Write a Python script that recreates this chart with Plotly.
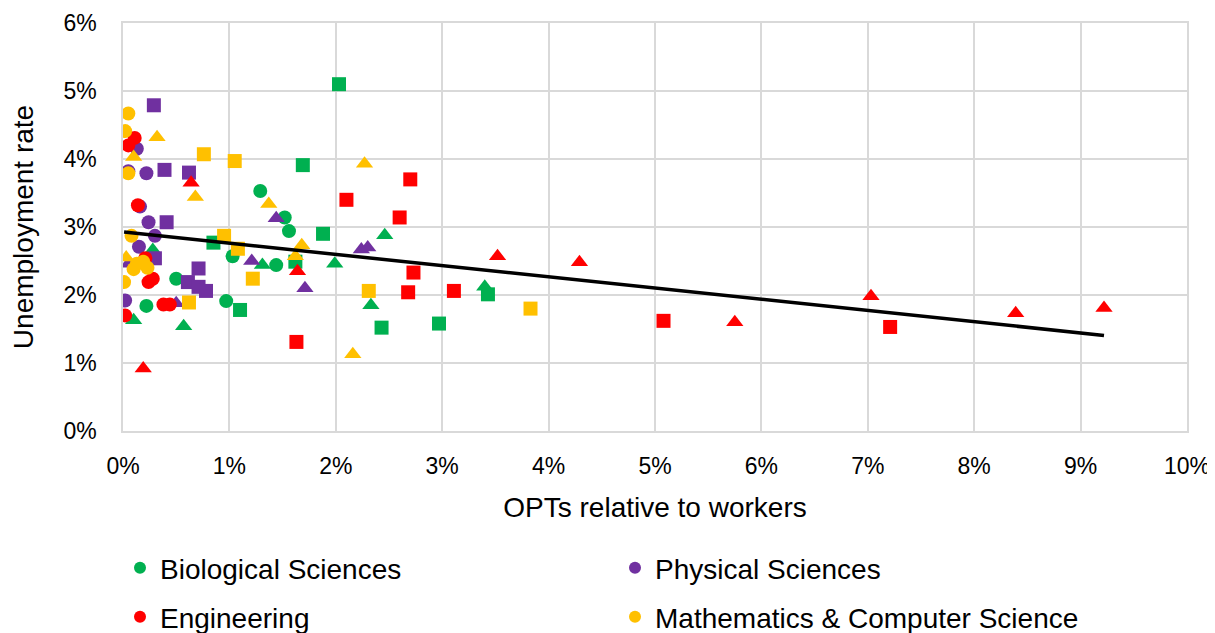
import numpy as np
import plotly.graph_objects as go

# Values in percent: (OPTs relative to workers, unemployment rate)
categories = ["Biological Sciences", "Physical Sciences", "Engineering",
              "Mathematics & Computer Science"]
colors = ["#00B050", "#7030A0", "#FF0000", "#FFC000"]

bio_circle_x = [1.29, 1.52, 1.56, 1.44, 1.03, 0.97, 0.50, 0.22]
bio_circle_y = [3.53, 3.14, 2.94, 2.44, 2.57, 1.91, 2.24, 1.84]
bio_square_x = [2.03, 1.69, 1.88, 1.62, 2.43, 2.97, 3.43, 0.85, 1.10]
bio_square_y = [5.10, 3.91, 2.90, 2.49, 1.52, 1.58, 2.01, 2.77, 1.78]
bio_tri_x = [2.46, 1.99, 2.33, 3.40, 1.31, 0.28, 0.10, 0.57]
bio_tri_y = [2.88, 2.46, 1.85, 2.12, 2.44, 2.66, 1.63, 1.54]

phys_circle_x = [0.13, 0.22, 0.05, 0.16, 0.24, 0.30, 0.15, 0.02]
phys_circle_y = [4.15, 3.79, 3.82, 3.30, 3.07, 2.87, 2.71, 1.92]
phys_square_x = [0.29, 0.39, 0.62, 0.41, 0.30, 0.71, 0.61, 0.71, 0.78]
phys_square_y = [4.79, 3.84, 3.80, 3.07, 2.54, 2.39, 2.19, 2.12, 2.06]
phys_tri_x = [1.44, 1.21, 1.71, 2.24, 2.30, 0.50, 0.05]
phys_tri_y = [3.13, 2.50, 2.10, 2.67, 2.70, 1.88, 2.46]

eng_circle_x = [0.11, 0.05, 0.14, 0.21, 0.28, 0.24, 0.38, 0.44, 0.02]
eng_circle_y = [4.31, 4.20, 3.32, 2.54, 2.24, 2.19, 1.86, 1.86, 1.70]
eng_square_x = [2.70, 2.10, 2.60, 2.73, 2.68, 3.11, 1.63, 5.08, 7.21]
eng_square_y = [3.70, 3.40, 3.14, 2.33, 2.04, 2.06, 1.31, 1.62, 1.53]
eng_tri_x = [0.64, 1.64, 0.19, 3.52, 4.29, 5.75, 7.03, 8.39, 9.22]
eng_tri_y = [3.65, 2.35, 0.92, 2.57, 2.48, 1.60, 1.98, 1.73, 1.81]

math_circle_x = [0.05, 0.02, 0.05, 0.08, 0.13, 0.19, 0.23, 0.10, 0.01]
math_circle_y = [4.67, 4.41, 3.79, 2.87, 2.46, 2.49, 2.40, 2.38, 2.19]
math_square_x = [0.76, 1.05, 0.95, 1.08, 1.22, 0.62, 2.31, 3.83]
math_square_y = [4.07, 3.97, 2.87, 2.68, 2.24, 1.89, 2.06, 1.80]
math_tri_x = [0.32, 0.10, 0.68, 1.37, 1.68, 1.62, 2.27, 2.16, 0.03]
math_tri_y = [4.32, 4.03, 3.44, 3.34, 2.73, 2.57, 3.93, 1.13, 2.55]

x_ticks = list(range(0, 11))
x_tick_labels = [f"{v}%" for v in x_ticks]
y_ticks = list(range(0, 7))
y_tick_labels = [f"{v}%" for v in y_ticks]

groups = [
    (bio_circle_x, bio_circle_y, bio_square_x, bio_square_y, bio_tri_x, bio_tri_y),
    (phys_circle_x, phys_circle_y, phys_square_x, phys_square_y, phys_tri_x, phys_tri_y),
    (eng_circle_x, eng_circle_y, eng_square_x, eng_square_y, eng_tri_x, eng_tri_y),
    (math_circle_x, math_circle_y, math_square_x, math_square_y, math_tri_x, math_tri_y),
]
legend_ids = ["legend", "legend", "legend2", "legend2"]

FONT = "Liberation Sans, Arial, sans-serif"
W, H = 1207, 625  # page body adds an 8px margin
fig = go.Figure()
all_x, all_y = [], []
for i, (cx, cy, sx, sy, tx, ty) in enumerate(groups):
    col = colors[i]
    fig.add_trace(go.Scatter(x=cx, y=cy, mode="markers", name=categories[i],
                             legend=legend_ids[i],
                             marker=dict(symbol="circle", size=14, color=col)))
    fig.add_trace(go.Scatter(x=sx, y=sy, mode="markers", showlegend=False,
                             name=categories[i],
                             marker=dict(symbol="square", size=14, color=col)))
    fig.add_trace(go.Scatter(x=tx, y=ty, mode="markers", showlegend=False,
                             name=categories[i],
                             marker=dict(symbol="triangle-up", size=15, color=col)))
    all_x += cx + sx + tx
    all_y += cy + sy + ty

# Linear trendline over all points
slope, intercept = np.polyfit(all_x, all_y, 1)
tx_line = np.array([min(all_x), max(all_x)])
fig.add_trace(go.Scatter(x=tx_line, y=intercept + slope * tx_line, mode="lines",
                         showlegend=False, line=dict(color="black", width=3.5),
                         hoverinfo="skip"))

grid = "#D9D9D9"
fig.update_layout(
    width=W, height=H,
    margin=dict(l=115, r=28, t=15, b=202, autoexpand=False),
    paper_bgcolor="white", plot_bgcolor="white",
    font=dict(family=FONT, color="black", size=23),
    xaxis=dict(range=[0, 10], tickvals=x_ticks, ticktext=x_tick_labels,
               showgrid=True, gridcolor=grid, gridwidth=1.5,
               showline=True, linecolor=grid, linewidth=1.5, mirror=True,
               zeroline=False, ticklabelstandoff=14, automargin=False,
               tickfont=dict(size=23),
               title=dict(text="OPTs relative to workers", font=dict(size=28),
                          standoff=19)),
    yaxis=dict(range=[0, 6], tickvals=y_ticks, ticktext=y_tick_labels,
               showgrid=True, gridcolor=grid, gridwidth=1.5,
               showline=True, linecolor=grid, linewidth=1.5, mirror=True,
               zeroline=False, ticklabelstandoff=20, automargin=False,
               tickfont=dict(size=23),
               title=dict(text="Unemployment rate", font=dict(size=28),
                          standoff=23)),
    legend=dict(orientation="h", xref="container", x=112 / W, xanchor="left",
                yref="container", y=1 - 560 / H, yanchor="middle",
                entrywidth=450, entrywidthmode="pixels",
                font=dict(size=28), itemsizing="constant",
                bgcolor="rgba(0,0,0,0)"),
    legend2=dict(orientation="h", xref="container", x=112 / W, xanchor="left",
                 yref="container", y=1 - 609 / H, yanchor="middle",
                 entrywidth=450, entrywidthmode="pixels",
                 font=dict(size=28), itemsizing="constant",
                 bgcolor="rgba(0,0,0,0)"),
    showlegend=True,
)

fig.write_html("out.html")
